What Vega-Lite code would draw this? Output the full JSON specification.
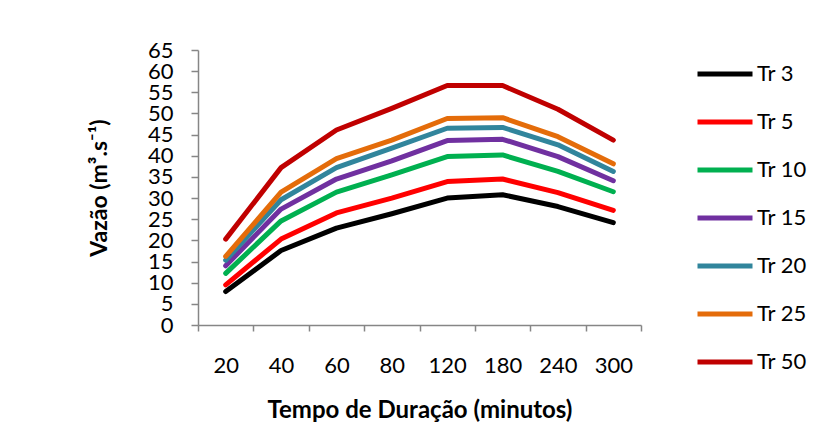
{
  "$schema": "https://vega.github.io/schema/vega-lite/v6.json",
  "width": 443,
  "height": 275,
  "autosize": {"type": "none"},
  "padding": {"left": 198, "top": 50, "right": 195, "bottom": 106},
  "background": "white",
  "config": {
    "font": "Lato",
    "view": {"stroke": null},
    "axis": {"domainColor": "#868686", "tickColor": "#868686", "grid": false, "labelColor": "#000000", "titleColor": "#000000", "labelFont": "Lato", "titleFont": "Lato", "domainWidth": 1.5, "tickWidth": 1.5, "labelOverlap": false}
  },
  "data": {
    "values": [
      {"t": "20", "s": "Tr 3", "v": 7.9}, {"t": "40", "s": "Tr 3", "v": 17.6}, {"t": "60", "s": "Tr 3", "v": 22.9}, {"t": "80", "s": "Tr 3", "v": 26.3}, {"t": "120", "s": "Tr 3", "v": 30.0}, {"t": "180", "s": "Tr 3", "v": 30.8}, {"t": "240", "s": "Tr 3", "v": 28.0}, {"t": "300", "s": "Tr 3", "v": 24.2},
      {"t": "20", "s": "Tr 5", "v": 9.5}, {"t": "40", "s": "Tr 5", "v": 20.3}, {"t": "60", "s": "Tr 5", "v": 26.5}, {"t": "80", "s": "Tr 5", "v": 30.0}, {"t": "120", "s": "Tr 5", "v": 33.9}, {"t": "180", "s": "Tr 5", "v": 34.5}, {"t": "240", "s": "Tr 5", "v": 31.3}, {"t": "300", "s": "Tr 5", "v": 27.1},
      {"t": "20", "s": "Tr 10", "v": 12.2}, {"t": "40", "s": "Tr 10", "v": 24.6}, {"t": "60", "s": "Tr 10", "v": 31.4}, {"t": "80", "s": "Tr 10", "v": 35.5}, {"t": "120", "s": "Tr 10", "v": 39.8}, {"t": "180", "s": "Tr 10", "v": 40.2}, {"t": "240", "s": "Tr 10", "v": 36.3}, {"t": "300", "s": "Tr 10", "v": 31.5},
      {"t": "20", "s": "Tr 15", "v": 14.0}, {"t": "40", "s": "Tr 15", "v": 27.4}, {"t": "60", "s": "Tr 15", "v": 34.5}, {"t": "80", "s": "Tr 15", "v": 38.8}, {"t": "120", "s": "Tr 15", "v": 43.6}, {"t": "180", "s": "Tr 15", "v": 43.9}, {"t": "240", "s": "Tr 15", "v": 39.8}, {"t": "300", "s": "Tr 15", "v": 34.1},
      {"t": "20", "s": "Tr 20", "v": 15.3}, {"t": "40", "s": "Tr 20", "v": 29.6}, {"t": "60", "s": "Tr 20", "v": 37.2}, {"t": "80", "s": "Tr 20", "v": 41.8}, {"t": "120", "s": "Tr 20", "v": 46.5}, {"t": "180", "s": "Tr 20", "v": 46.7}, {"t": "240", "s": "Tr 20", "v": 42.6}, {"t": "300", "s": "Tr 20", "v": 36.3},
      {"t": "20", "s": "Tr 25", "v": 16.2}, {"t": "40", "s": "Tr 25", "v": 31.4}, {"t": "60", "s": "Tr 25", "v": 39.3}, {"t": "80", "s": "Tr 25", "v": 43.7}, {"t": "120", "s": "Tr 25", "v": 48.8}, {"t": "180", "s": "Tr 25", "v": 49.0}, {"t": "240", "s": "Tr 25", "v": 44.5}, {"t": "300", "s": "Tr 25", "v": 38.1},
      {"t": "20", "s": "Tr 50", "v": 20.3}, {"t": "40", "s": "Tr 50", "v": 37.2}, {"t": "60", "s": "Tr 50", "v": 46.1}, {"t": "80", "s": "Tr 50", "v": 51.2}, {"t": "120", "s": "Tr 50", "v": 56.6}, {"t": "180", "s": "Tr 50", "v": 56.6}, {"t": "240", "s": "Tr 50", "v": 51.0}, {"t": "300", "s": "Tr 50", "v": 43.7}
    ]
  },
  "mark": {"type": "line", "strokeWidth": 5, "strokeCap": "round", "strokeJoin": "round"},
  "encoding": {
    "x": {
      "field": "t", "type": "ordinal", "sort": ["20", "40", "60", "80", "120", "180", "240", "300"],
      "bandPosition": 0.5,
      "scale": {"type": "band", "paddingInner": 0, "paddingOuter": 0},
      "axis": {"title": "Tempo de Duração (minutos)", "labelAngle": 0, "labelFontSize": 22, "labelPadding": 24, "tickSize": 6, "tickBand": "extent", "titleFontSize": 24, "titleFontWeight": "bold", "titlePadding": 22}
    },
    "y": {
      "field": "v", "type": "quantitative",
      "scale": {"domain": [0, 65], "nice": false},
      "axis": {"title": "Vazão (m³.s⁻¹)", "values": [0,5,10,15,20,25,30,35,40,45,50,55,60,65], "labelFontSize": 22, "labelPadding": 18, "tickSize": 7, "titleFontSize": 23, "titleFontWeight": "bold", "titlePadding": 36}
    },
    "color": {
      "field": "s", "type": "nominal", "sort": ["Tr 3", "Tr 5", "Tr 10", "Tr 15", "Tr 20", "Tr 25", "Tr 50"],
      "scale": {"domain": ["Tr 3", "Tr 5", "Tr 10", "Tr 15", "Tr 20", "Tr 25", "Tr 50"], "range": ["#000000", "#FF0000", "#00B050", "#7030A0", "#31859C", "#E46C0A", "#C00000"]},
      "legend": {"title": null, "orient": "none", "legendX": 497, "legendY": -6, "symbolType": "stroke", "symbolSize": 3025, "symbolStrokeWidth": 5, "labelFontSize": 22, "labelOffset": 2, "rowPadding": 7, "labelColor": "#000000"}
    }
  }
}
